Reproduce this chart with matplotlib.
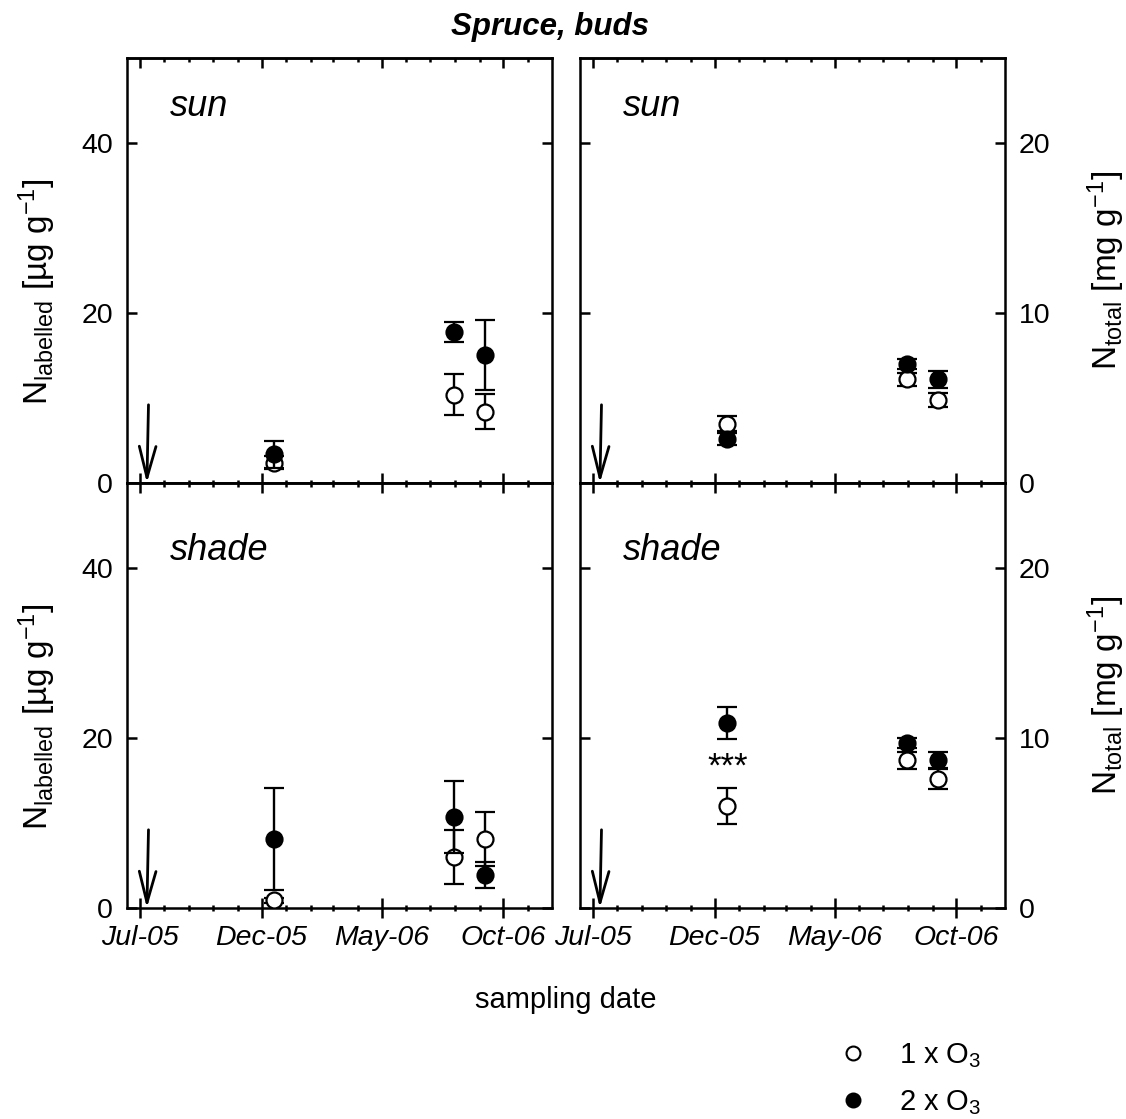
import datetime as dt
import numpy as np
import matplotlib.pyplot as plt
import matplotlib.dates as mdates
from matplotlib.lines import Line2D

plt.rcParams['font.family'] = ['Liberation Sans', 'DejaVu Sans']
plt.rcParams['mathtext.fontset'] = 'custom'
plt.rcParams['mathtext.rm'] = 'Liberation Sans'
plt.rcParams['mathtext.it'] = 'Liberation Sans:italic'
plt.rcParams['mathtext.bf'] = 'Liberation Sans:bold'

# sampling dates and 15N label application
dates = [dt.date(2005, 12, 17), dt.date(2006, 7, 31), dt.date(2006, 9, 8)]
label_date = dt.date(2005, 7, 10)

# N labelled [ug/g], means and errors
sun_lab_1x = [2.4, 10.4, 8.4]
sun_lab_1x_err = [0.8, 2.4, 2.1]
sun_lab_2x = [3.4, 17.8, 15.1]
sun_lab_2x_err = [1.6, 1.2, 4.1]
shade_lab_1x = [0.9, 6.0, 8.1]
shade_lab_1x_err = [0.3, 3.2, 3.2]
shade_lab_2x = [8.1, 10.7, 3.9]
shade_lab_2x_err = [6.0, 4.2, 1.5]

# N total [mg/g]
sun_tot_1x = [3.5, 6.1, 4.9]
sun_tot_1x_err = [0.45, 0.4, 0.4]
sun_tot_2x = [2.6, 7.0, 6.1]
sun_tot_2x_err = [0.35, 0.3, 0.5]
shade_tot_1x = [6.0, 8.7, 7.6]
shade_tot_1x_err = [1.05, 0.5, 0.6]
shade_tot_2x = [10.9, 9.7, 8.7]
shade_tot_2x_err = [0.95, 0.3, 0.45]

major_dates = [dt.date(2005, 7, 1), dt.date(2005, 12, 1), dt.date(2006, 5, 1), dt.date(2006, 10, 1)]
xtick_labels = ['Jul-05', 'Dec-05', 'May-06', 'Oct-06']
xlim = (dt.date(2005, 6, 15), dt.date(2006, 12, 1))

x = mdates.date2num(dates)
x_major = mdates.date2num(major_dates)
x_minor = mdates.date2num([dt.date(2005 + (6 + m) // 12, (6 + m) % 12 + 1, 1) for m in range(17)])
x_lab = mdates.date2num(label_date)

W, H = 1126, 1119
LW = 1.8
fig = plt.figure(figsize=(W / 100, H / 100), dpi=100)

def panel(left, top, ylim, yticks, right_labels):
    ax = fig.add_axes([left / W, 1 - (top + 425) / H, 425 / W, 425 / H])
    ax.set_xlim(mdates.date2num(xlim[0]), mdates.date2num(xlim[1]))
    ax.set_ylim(*ylim)
    for s in ax.spines.values():
        s.set_linewidth(LW)
    ax.set_xticks(x_major)
    ax.set_xticks(x_minor, minor=True)
    ax.set_yticks(yticks)
    ax.tick_params(axis='x', which='major', direction='inout', length=14, width=LW,
                   labelsize=20.5, pad=5)
    ax.tick_params(axis='x', which='minor', direction='inout', length=4.5, width=LW)
    ax.tick_params(axis='y', direction='in', length=7, width=LW, labelsize=20.5, pad=10,
                   left=True, right=True, labelleft=not right_labels, labelright=right_labels)
    top_ax = ax.secondary_xaxis('top')
    top_ax.set_xticks(x_major)
    top_ax.set_xticks(x_minor, minor=True)
    top_ax.tick_params(which='major', direction='in', length=7, width=LW, labeltop=False)
    top_ax.tick_params(which='minor', direction='in', length=3, width=LW)
    top_ax.spines['top'].set_linewidth(LW)
    return ax

ax_sun_lab = panel(127, 58, (0, 50), [0, 20, 40], False)
ax_sun_tot = panel(580, 58, (0, 25), [0, 10, 20], True)
ax_sh_lab = panel(127, 483, (0, 50), [0, 20, 40], False)
ax_sh_tot = panel(580, 483, (0, 25), [0, 10, 20], True)

for ax in (ax_sun_lab, ax_sun_tot):
    ax.set_xticklabels([])
for ax in (ax_sh_lab, ax_sh_tot):
    ax.set_xticklabels(xtick_labels, fontstyle='italic')

series = [
    (ax_sun_lab, sun_lab_1x, sun_lab_1x_err, sun_lab_2x, sun_lab_2x_err, 'sun', 0.885),
    (ax_sun_tot, sun_tot_1x, sun_tot_1x_err, sun_tot_2x, sun_tot_2x_err, 'sun', 0.885),
    (ax_sh_lab, shade_lab_1x, shade_lab_1x_err, shade_lab_2x, shade_lab_2x_err, 'shade', 0.84),
    (ax_sh_tot, shade_tot_1x, shade_tot_1x_err, shade_tot_2x, shade_tot_2x_err, 'shade', 0.84),
]

for ax, y1, e1, y2, e2, name, ypos in series:
    ax.errorbar(x, y1, yerr=e1, fmt='o', ms=11.5, mfc='white', mec='black', mew=1.6,
                ecolor='black', elinewidth=1.7, capsize=7, capthick=1.7, zorder=3)
    ax.errorbar(x, y2, yerr=e2, fmt='o', ms=11.5, mfc='black', mec='black', mew=1.6,
                ecolor='black', elinewidth=1.7, capsize=7, capthick=1.7, zorder=4)
    ymax = ax.get_ylim()[1]
    ax.annotate('', xy=(x_lab, 0), xytext=(x_lab + 2, 0.184 * ymax),
                arrowprops=dict(arrowstyle='->,head_length=1.5,head_width=0.4',
                                lw=2.0, color='black', mutation_scale=15,
                                shrinkA=0, shrinkB=0))
    ax.text(0.10, ypos, name, transform=ax.transAxes, fontsize=26, fontstyle='italic',
            ha='left', va='center')

ax_sh_tot.text(x[0], 8.3, '***', fontsize=25, ha='center', va='center')

# figure-level labels
fig.text(550 / W, 1 - 27 / H, 'Spruce, buds', fontsize=22.5, fontweight='bold',
         fontstyle='italic', ha='center', va='center')
fig.text(566 / W, 1 - 1000 / H, 'sampling date', fontsize=21, ha='center', va='center')
for yc in (292, 717):
    fig.text(37 / W, 1 - yc / H, r'N$_{\rm labelled}$ [µg g$^{-1}$]', fontsize=24,
             rotation=90, ha='center', va='center')
for yc in (270, 695):
    fig.text(1106 / W, 1 - yc / H, r'N$_{\rm total}$ [mg g$^{-1}$]', fontsize=24,
             rotation=90, ha='center', va='center')

handles = [Line2D([], [], ls='none', marker='o', ms=10, mfc='white', mec='black', mew=1.5),
           Line2D([], [], ls='none', marker='o', ms=10, mfc='black', mec='black', mew=1.5)]
fig.legend(handles, [r'1 x O$_3$', r'2 x O$_3$'], loc='upper left',
           bbox_to_anchor=(838 / W, 1 - 1041 / H), frameon=False, fontsize=21,
           handlelength=1.0, handletextpad=1.1, labelspacing=0.62, borderpad=0,
           borderaxespad=0)

fig.savefig('out.png', dpi=100)
